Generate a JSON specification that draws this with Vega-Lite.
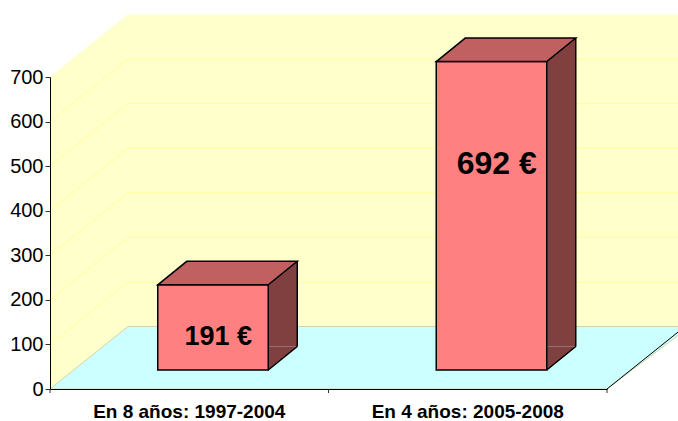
{
  "$schema": "https://vega.github.io/schema/vega-lite/v6.json",
  "width": 557,
  "height": 312,
  "autosize": {"type": "none"},
  "padding": {"left": 50, "top": 77, "right": 71, "bottom": 32},
  "background": "white",
  "config": {"view": {"stroke": null}, "font": "Liberation Sans"},
  "datasets": {
    "bars": [
      {"category": "En 8 años: 1997-2004", "value": 191, "label": "191 €"},
      {"category": "En 4 años: 2005-2008", "value": 692, "label": "692 €"}
    ],
    "ticks": [{"v": 100}, {"v": 200}, {"v": 300}, {"v": 400}, {"v": 500}, {"v": 600}],
    "origin": [{"v": 0}]
  },
  "resolve": {"scale": {"y": "independent"}},
  "layer": [
    {
      "layer": [
        {
          "data": {"name": "origin"},
          "mark": {"type": "rect", "fill": "#ffffcc", "xOffset": 78, "x2Offset": 78, "yOffset": -62.5, "y2Offset": -62.5},
          "encoding": {
            "x": {"value": 0}, "x2": {"value": "width"},
            "y": {"datum": 0, "type": "quantitative"}, "y2": {"datum": 700}
          }
        },
        {
          "data": {"name": "origin"},
          "mark": {"type": "rect", "fill": "#ffffcc", "x2Offset": 78},
          "encoding": {
            "x": {"value": 0}, "x2": {"value": 0},
            "y": {"datum": 0, "type": "quantitative"}, "y2": {"datum": 700}
          }
        },
        {
          "data": {"name": "origin"},
          "mark": {"type": "point", "shape": "M0,0 L78,-62.5 L78,0 Z", "size": 4, "filled": true, "fill": "#ffffcc", "stroke": "#ffffcc", "strokeWidth": 0.5, "opacity": 1},
          "encoding": {"x": {"value": 0}, "y": {"datum": 700, "type": "quantitative"}}
        },
        {
          "data": {"name": "ticks"},
          "mark": {"type": "point", "shape": "M0,0 L78,-62.5", "size": 4, "filled": false, "fill": null, "stroke": "#ffff99", "strokeWidth": 1, "opacity": 1},
          "encoding": {"x": {"value": 0}, "y": {"field": "v", "type": "quantitative"}}
        },
        {
          "data": {"name": "ticks"},
          "mark": {"type": "rule", "stroke": "#ffff99", "strokeWidth": 1, "xOffset": 78, "x2Offset": 78, "yOffset": -62.5},
          "encoding": {"x": {"value": 0}, "x2": {"value": "width"}, "y": {"field": "v", "type": "quantitative"}}
        },
        {
          "data": {"name": "origin"},
          "mark": {"type": "point", "shape": "M0,0 L78,-62.5 L640,-62.5 L557,0 Z", "size": 4, "filled": true, "fill": "#ccffff", "stroke": "#d4d4a8", "strokeWidth": 1, "opacity": 1},
          "encoding": {"x": {"value": 0}, "y": {"datum": 0, "type": "quantitative"}}
        },
        {
          "data": {"name": "origin"},
          "mark": {"type": "point", "shape": "M557,0 L635,-62.5", "size": 4, "filled": false, "fill": null, "stroke": "#000000", "strokeWidth": 1, "opacity": 1},
          "encoding": {"x": {"value": 0}, "y": {"datum": 0, "type": "quantitative"}}
        },
        {
          "data": {"name": "bars"},
          "mark": {"type": "rule", "stroke": "#333333", "strokeWidth": 1, "y2Offset": 4},
          "encoding": {
            "x": {"field": "category", "type": "nominal", "sort": null, "bandPosition": 0},
            "y": {"datum": 0, "type": "quantitative"},
            "y2": {"datum": 0}
          }
        },
        {
          "data": {"name": "origin"},
          "mark": {"type": "rule", "stroke": "#333333", "strokeWidth": 1, "y2Offset": 4},
          "encoding": {
            "x": {"value": "width"},
            "y": {"datum": 0, "type": "quantitative"},
            "y2": {"datum": 0}
          }
        },
        {
          "data": {"name": "bars"},
          "mark": {"type": "bar", "width": 29, "fill": "#804040", "xOffset": 93.5, "yOffset": -42.5, "y2Offset": -42.5},
          "encoding": {
            "x": {"field": "category", "type": "nominal", "sort": null},
            "y": {"field": "value", "type": "quantitative"},
            "y2": {"datum": 0}
          }
        },
        {
          "data": {"name": "bars"},
          "mark": {"type": "point", "shape": "M55.25,0 L55.25,-23.5 L84.25,-23.5 Z", "size": 4, "filled": true, "fill": "#804040", "strokeWidth": 0, "opacity": 1, "xOffset": 23.75, "yOffset": -19},
          "encoding": {
            "x": {"field": "category", "type": "nominal", "sort": null},
            "y": {"datum": 0, "type": "quantitative"}
          }
        },
        {
          "data": {"name": "bars"},
          "mark": {"type": "bar", "width": 110.5, "fill": "#ff8080", "stroke": "#000000", "strokeWidth": 1.5, "xOffset": 23.75, "yOffset": -19, "y2Offset": -19},
          "encoding": {
            "x": {
              "field": "category", "type": "nominal", "sort": null,
              "scale": {"type": "band", "domain": ["En 8 años: 1997-2004", "En 4 años: 2005-2008"], "paddingInner": 0, "paddingOuter": 0},
              "axis": {"title": null, "labelAngle": 0, "labelAlign": "center", "labelBaseline": "top", "labelFontSize": 19, "labelFontWeight": "bold", "labelColor": "#000000", "labelLimit": 0, "domainColor": "#000000", "domainWidth": 1, "ticks": true, "tickSize": 4, "tickOpacity": 0, "labelPadding": 9, "zindex": 1}
            },
            "y": {
              "field": "value", "type": "quantitative",
              "scale": {"domain": [0, 700], "nice": false, "zero": true},
              "axis": {"title": null, "values": [0, 100, 200, 300, 400, 500, 600, 700], "grid": false, "labelFontSize": 20, "labelColor": "#000000", "domainColor": "#000000", "domainWidth": 1, "tickColor": "#333333", "tickSize": 5, "labelPadding": 2, "zindex": 1}
            },
            "y2": {"datum": 0}
          }
        },
        {
          "data": {"name": "bars"},
          "mark": {"type": "point", "shape": "M-55.25,0 L-26.25,-23.5 L84.25,-23.5 L55.25,0 Z", "size": 4, "filled": true, "fill": "#c06060", "stroke": "#000000", "strokeWidth": 1.5, "opacity": 1, "xOffset": 23.75, "yOffset": -19},
          "encoding": {
            "x": {"field": "category", "type": "nominal", "sort": null},
            "y": {"field": "value", "type": "quantitative"}
          }
        },
        {
          "data": {"name": "bars"},
          "mark": {"type": "rule", "stroke": "#000000", "strokeWidth": 1.5, "xOffset": 108, "yOffset": -42.5, "y2Offset": -42.5},
          "encoding": {
            "x": {"field": "category", "type": "nominal", "sort": null},
            "y": {"field": "value", "type": "quantitative"},
            "y2": {"datum": 0}
          }
        },
        {
          "data": {"name": "bars"},
          "mark": {"type": "point", "shape": "M55.25,0 L84.25,-23.5", "size": 4, "filled": false, "fill": null, "stroke": "#000000", "strokeWidth": 1.5, "opacity": 1, "xOffset": 23.75, "yOffset": -19},
          "encoding": {
            "x": {"field": "category", "type": "nominal", "sort": null},
            "y": {"datum": 0, "type": "quantitative"}
          }
        }
      ]
    },
    {
      "data": {"name": "bars"},
      "mark": {"type": "text", "fontWeight": "bold", "color": "#000000", "align": "center", "baseline": "middle", "xOffset": 29},
      "encoding": {
        "x": {"field": "category", "type": "nominal", "sort": null},
        "y": {"field": "value", "type": "quantitative", "scale": {"domain": [40.7, 942.2], "nice": false, "zero": false}, "axis": null},
        "size": {"field": "value", "type": "quantitative", "scale": {"domain": [191, 692], "range": [27, 32]}, "legend": null},
        "text": {"field": "label", "type": "nominal"}
      }
    }
  ]
}
